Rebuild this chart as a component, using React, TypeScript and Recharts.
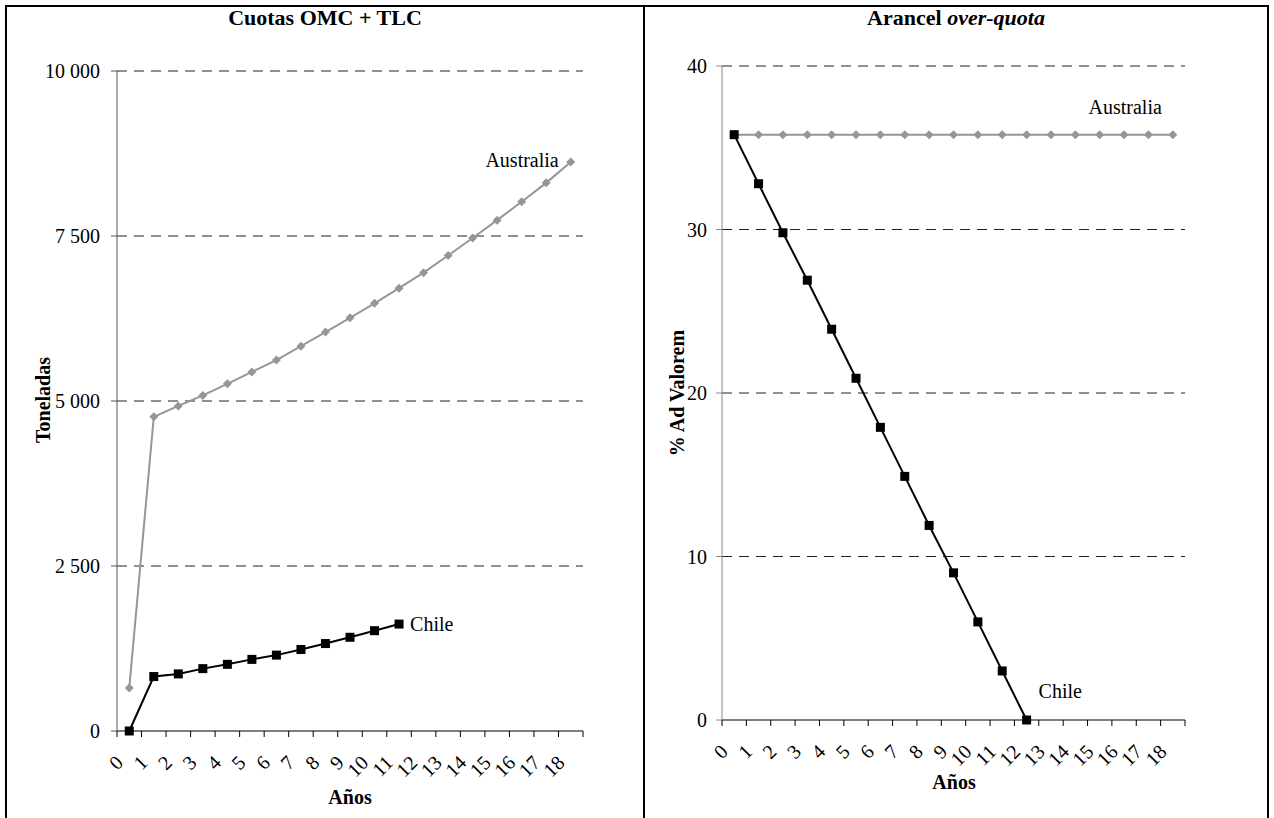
import React from 'react';
import { LineChart, Line, XAxis, YAxis, CartesianGrid, LabelList } from 'recharts';

const years = ['0', '1', '2', '3', '4', '5', '6', '7', '8', '9', '10', '11', '12', '13', '14', '15', '16', '17', '18'];

// Cuotas OMC + TLC (toneladas)
const quotaAustralia = [650, 4760, 4925, 5085, 5260, 5440, 5620, 5830, 6045, 6260, 6480, 6710, 6945, 7205, 7470, 7740, 8020, 8305, 8620];
const quotaChile = [0, 825, 865, 945, 1010, 1085, 1150, 1235, 1325, 1420, 1520, 1620];

// Arancel over-quota (% ad valorem)
const tariffAustralia = [35.8, 35.8, 35.8, 35.8, 35.8, 35.8, 35.8, 35.8, 35.8, 35.8, 35.8, 35.8, 35.8, 35.8, 35.8, 35.8, 35.8, 35.8, 35.8];
const tariffChile = [35.8, 32.8, 29.8, 26.9, 23.9, 20.9, 17.9, 14.9, 11.9, 9.0, 6.0, 3.0, 0];

const quotaTicks = [0, 2500, 5000, 7500, 10000];
const tariffTicks = [0, 10, 20, 30, 40];

const quotaData = years.map((y, i) => ({
  year: y,
  australia: quotaAustralia[i],
  chile: i < quotaChile.length ? quotaChile[i] : null,
}));

const tariffData = years.map((y, i) => ({
  year: y,
  australia: tariffAustralia[i],
  chile: i < tariffChile.length ? tariffChile[i] : null,
}));

const FONT = "'Liberation Serif', 'Times New Roman', serif";
const GRAY = '#969696';

const fmtThousands = (v: number) =>
  v >= 1000 ? `${Math.floor(v / 1000)} ${String(v % 1000).padStart(3, '0')}` : String(v);

const makeXTick = (half: number, count: number) => (props: any) => {
  const { x, y, payload, index } = props;
  const ax = x - 5;
  const ay = y + 33;
  return (
    <g>
      <line x1={x - half} y1={y} x2={x - half} y2={y + 6} stroke="#000" />
      {index === count - 1 && <line x1={x + half} y1={y} x2={x + half} y2={y + 6} stroke="#000" />}
      <text x={ax} y={ay} textAnchor="end" fontSize={20} fontFamily={FONT} fill="#000"
        transform={`rotate(-45, ${ax}, ${ay})`}>
        {payload.value}
      </text>
    </g>
  );
};

const Diamond = (props: any) => {
  const { cx, cy, value } = props;
  if (value == null || cx == null) return null;
  const r = 4.5;
  return <polygon points={`${cx},${cy - r} ${cx + r},${cy} ${cx},${cy + r} ${cx - r},${cy}`} fill={GRAY} />;
};

const Square = (props: any) => {
  const { cx, cy, value } = props;
  if (value == null || cx == null) return null;
  return <rect x={cx - 4.5} y={cy - 4.5} width={9} height={9} fill="#000" />;
};

const endLabel = (text: string, last: number, dx: number, dy: number, anchor: 'start' | 'end') => (props: any) => {
  const { x, y, index } = props;
  if (index !== last) return null;
  return (
    <text x={x + dx} y={y + dy} textAnchor={anchor} dominantBaseline="middle" fontSize={20} fontFamily={FONT} fill="#000">
      {text}
    </text>
  );
};

const textStyle: React.CSSProperties = {
  position: 'absolute',
  fontFamily: FONT,
  color: '#000',
  whiteSpace: 'nowrap',
};

export default function App() {
  return (
    <div style={{ position: 'absolute', left: 0, top: 0, width: 1274, height: 818, background: '#fff', overflow: 'hidden' }}>
      {/* frame */}
      <div style={{ position: 'absolute', left: 5, top: 5, width: 1260, height: 830, borderLeft: '2px solid #000', borderTop: '2px solid #000', borderRight: '2px solid #000' }} />
      <div style={{ position: 'absolute', left: 643, top: 5, width: 2, height: 830, background: '#000' }} />

      {/* left panel */}
      <div style={{ position: 'absolute', left: 6, top: 6 }}>
        <LineChart width={638} height={812} data={quotaData} margin={{ top: 65, right: 61, left: 0, bottom: 27 }}>
          <CartesianGrid vertical={false} stroke="#222" strokeDasharray="10 7" horizontalValues={[2500, 5000, 7500, 10000]} />
          <XAxis dataKey="year" height={60} stroke="#000" tickLine={false} tickSize={0} tickMargin={0}
            padding={{ left: 12.26, right: 12.26 }} interval={0} tick={makeXTick(12.26, years.length)} />
          <YAxis width={111} domain={[0, 10000]} ticks={quotaTicks} stroke="#555" tickSize={6} tickMargin={11}
            tickFormatter={fmtThousands} tick={{ fill: '#000', fontSize: 20, fontFamily: FONT }} />
          <Line dataKey="australia" stroke={GRAY} strokeWidth={2} dot={<Diamond />} activeDot={false} isAnimationActive={false}>
            <LabelList dataKey="australia" content={endLabel('Australia', quotaAustralia.length - 1, -12, 0, 'end')} />
          </Line>
          <Line dataKey="chile" stroke="#000" strokeWidth={2} dot={<Square />} activeDot={false} isAnimationActive={false}>
            <LabelList dataKey="chile" content={endLabel('Chile', quotaChile.length - 1, 11, 2, 'start')} />
          </Line>
        </LineChart>
      </div>

      {/* right panel */}
      <div style={{ position: 'absolute', left: 644, top: 6 }}>
        <LineChart width={624} height={812} data={tariffData} margin={{ top: 60, right: 83, left: 0, bottom: 38 }}>
          <CartesianGrid vertical={false} stroke="#222" strokeDasharray="10 7" horizontalValues={[10, 20, 30, 40]} />
          <XAxis dataKey="year" height={60} stroke="#000" tickLine={false} tickSize={0} tickMargin={0}
            padding={{ left: 12.18, right: 12.18 }} interval={0} tick={makeXTick(12.18, years.length)} />
          <YAxis width={78} domain={[0, 40]} ticks={tariffTicks} stroke="#888" tickSize={6} tickMargin={9}
            tick={{ fill: '#000', fontSize: 20, fontFamily: FONT }} />
          <Line dataKey="australia" stroke={GRAY} strokeWidth={2} dot={<Diamond />} activeDot={false} isAnimationActive={false}>
            <LabelList dataKey="australia" content={endLabel('Australia', tariffAustralia.length - 1, -11, -25, 'end')} />
          </Line>
          <Line dataKey="chile" stroke="#000" strokeWidth={2} dot={<Square />} activeDot={false} isAnimationActive={false}>
            <LabelList dataKey="chile" content={endLabel('Chile', tariffChile.length - 1, 12, -27, 'start')} />
          </Line>
        </LineChart>
      </div>

      {/* titles */}
      <div style={{ ...textStyle, left: 6, width: 638, top: 5, textAlign: 'center', fontSize: 22, fontWeight: 'bold' }}>
        Cuotas OMC + TLC
      </div>
      <div style={{ ...textStyle, left: 644, width: 624, top: 5, textAlign: 'center', fontSize: 22, fontWeight: 'bold' }}>
        Arancel <i>over-quota</i>
      </div>

      {/* axis titles */}
      <div style={{ ...textStyle, left: 43, top: 400, fontSize: 20, fontWeight: 'bold', transform: 'translate(-50%, -50%) rotate(-90deg)' }}>
        Toneladas
      </div>
      <div style={{ ...textStyle, left: 350, top: 797, fontSize: 20, fontWeight: 'bold', transform: 'translate(-50%, -50%)' }}>
        Años
      </div>
      <div style={{ ...textStyle, left: 677, top: 393, fontSize: 20, fontWeight: 'bold', transform: 'translate(-50%, -50%) rotate(-90deg)' }}>
        % Ad Valorem
      </div>
      <div style={{ ...textStyle, left: 954, top: 782, fontSize: 20, fontWeight: 'bold', transform: 'translate(-50%, -50%)' }}>
        Años
      </div>
    </div>
  );
}
